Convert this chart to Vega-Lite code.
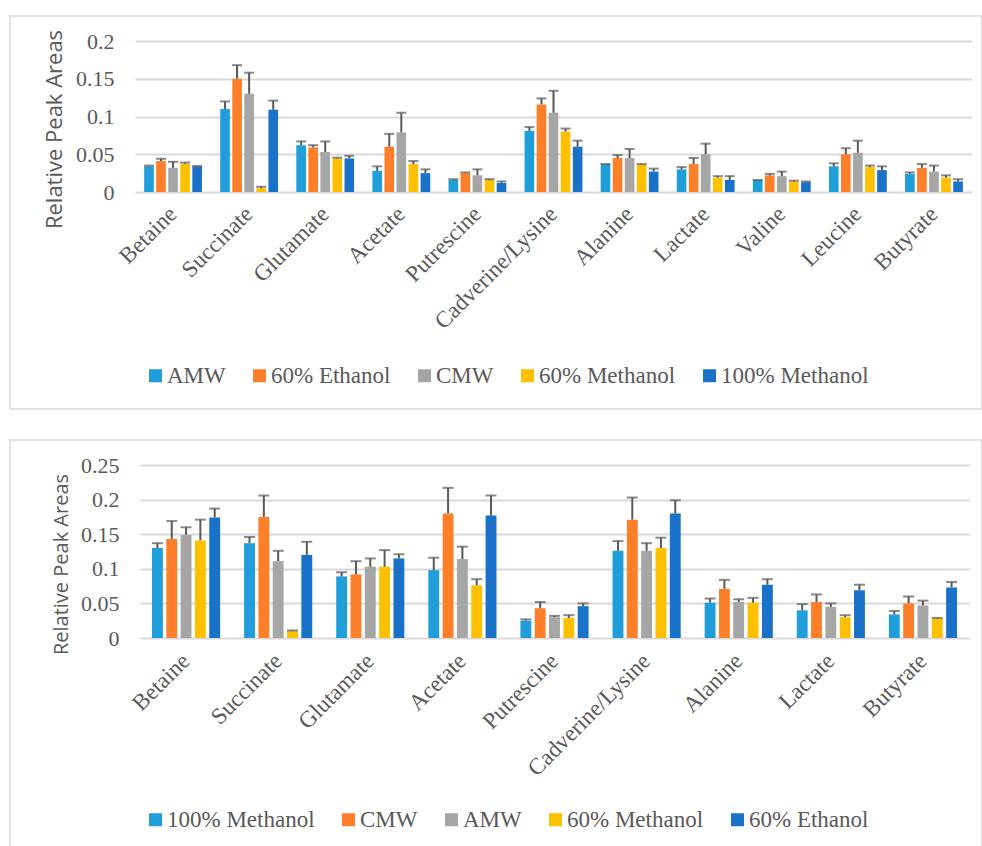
{
  "$schema": "https://vega.github.io/schema/vega-lite/v6.json",
  "padding": {"left": 9, "top": 15, "right": 0, "bottom": 0},
  "spacing": 29,
  "datasets": {
    "study1": [
      {"metabolite": "Betaine", "solvent": "AMW", "value": 0.034, "upper": 0.035},
      {"metabolite": "Betaine", "solvent": "60% Ethanol", "value": 0.041, "upper": 0.044},
      {"metabolite": "Betaine", "solvent": "CMW", "value": 0.032, "upper": 0.040},
      {"metabolite": "Betaine", "solvent": "60% Methanol", "value": 0.0375, "upper": 0.039},
      {"metabolite": "Betaine", "solvent": "100% Methanol", "value": 0.034, "upper": 0.0345},
      {"metabolite": "Succinate", "solvent": "AMW", "value": 0.110, "upper": 0.120},
      {"metabolite": "Succinate", "solvent": "60% Ethanol", "value": 0.150, "upper": 0.168},
      {"metabolite": "Succinate", "solvent": "CMW", "value": 0.130, "upper": 0.158},
      {"metabolite": "Succinate", "solvent": "60% Methanol", "value": 0.005, "upper": 0.007},
      {"metabolite": "Succinate", "solvent": "100% Methanol", "value": 0.109, "upper": 0.121},
      {"metabolite": "Glutamate", "solvent": "AMW", "value": 0.062, "upper": 0.067},
      {"metabolite": "Glutamate", "solvent": "60% Ethanol", "value": 0.059, "upper": 0.062},
      {"metabolite": "Glutamate", "solvent": "CMW", "value": 0.053, "upper": 0.067},
      {"metabolite": "Glutamate", "solvent": "60% Methanol", "value": 0.0445, "upper": 0.0455},
      {"metabolite": "Glutamate", "solvent": "100% Methanol", "value": 0.0445, "upper": 0.048},
      {"metabolite": "Acetate", "solvent": "AMW", "value": 0.028, "upper": 0.034},
      {"metabolite": "Acetate", "solvent": "60% Ethanol", "value": 0.060, "upper": 0.077},
      {"metabolite": "Acetate", "solvent": "CMW", "value": 0.079, "upper": 0.105},
      {"metabolite": "Acetate", "solvent": "60% Methanol", "value": 0.037, "upper": 0.041},
      {"metabolite": "Acetate", "solvent": "100% Methanol", "value": 0.025, "upper": 0.030},
      {"metabolite": "Putrescine", "solvent": "AMW", "value": 0.016, "upper": 0.017},
      {"metabolite": "Putrescine", "solvent": "60% Ethanol", "value": 0.025, "upper": 0.026},
      {"metabolite": "Putrescine", "solvent": "CMW", "value": 0.022, "upper": 0.030},
      {"metabolite": "Putrescine", "solvent": "60% Methanol", "value": 0.016, "upper": 0.017},
      {"metabolite": "Putrescine", "solvent": "100% Methanol", "value": 0.012, "upper": 0.014},
      {"metabolite": "Cadverine/Lysine", "solvent": "AMW", "value": 0.081, "upper": 0.086},
      {"metabolite": "Cadverine/Lysine", "solvent": "60% Ethanol", "value": 0.116, "upper": 0.124},
      {"metabolite": "Cadverine/Lysine", "solvent": "CMW", "value": 0.105, "upper": 0.134},
      {"metabolite": "Cadverine/Lysine", "solvent": "60% Methanol", "value": 0.080, "upper": 0.084},
      {"metabolite": "Cadverine/Lysine", "solvent": "100% Methanol", "value": 0.060, "upper": 0.068},
      {"metabolite": "Alanine", "solvent": "AMW", "value": 0.037, "upper": 0.037},
      {"metabolite": "Alanine", "solvent": "60% Ethanol", "value": 0.045, "upper": 0.049},
      {"metabolite": "Alanine", "solvent": "CMW", "value": 0.045, "upper": 0.057},
      {"metabolite": "Alanine", "solvent": "60% Methanol", "value": 0.036, "upper": 0.037},
      {"metabolite": "Alanine", "solvent": "100% Methanol", "value": 0.027, "upper": 0.031},
      {"metabolite": "Lactate", "solvent": "AMW", "value": 0.030, "upper": 0.033},
      {"metabolite": "Lactate", "solvent": "60% Ethanol", "value": 0.037, "upper": 0.045},
      {"metabolite": "Lactate", "solvent": "CMW", "value": 0.050, "upper": 0.064},
      {"metabolite": "Lactate", "solvent": "60% Methanol", "value": 0.019, "upper": 0.021},
      {"metabolite": "Lactate", "solvent": "100% Methanol", "value": 0.016, "upper": 0.021},
      {"metabolite": "Valine", "solvent": "AMW", "value": 0.016, "upper": 0.016},
      {"metabolite": "Valine", "solvent": "60% Ethanol", "value": 0.022, "upper": 0.024},
      {"metabolite": "Valine", "solvent": "CMW", "value": 0.021, "upper": 0.027},
      {"metabolite": "Valine", "solvent": "60% Methanol", "value": 0.014, "upper": 0.015},
      {"metabolite": "Valine", "solvent": "100% Methanol", "value": 0.013, "upper": 0.014},
      {"metabolite": "Leucine", "solvent": "AMW", "value": 0.034, "upper": 0.038},
      {"metabolite": "Leucine", "solvent": "60% Ethanol", "value": 0.050, "upper": 0.058},
      {"metabolite": "Leucine", "solvent": "CMW", "value": 0.052, "upper": 0.068},
      {"metabolite": "Leucine", "solvent": "60% Methanol", "value": 0.033, "upper": 0.035},
      {"metabolite": "Leucine", "solvent": "100% Methanol", "value": 0.029, "upper": 0.034},
      {"metabolite": "Butyrate", "solvent": "AMW", "value": 0.024, "upper": 0.026},
      {"metabolite": "Butyrate", "solvent": "60% Ethanol", "value": 0.032, "upper": 0.037},
      {"metabolite": "Butyrate", "solvent": "CMW", "value": 0.027, "upper": 0.035},
      {"metabolite": "Butyrate", "solvent": "60% Methanol", "value": 0.019, "upper": 0.022},
      {"metabolite": "Butyrate", "solvent": "100% Methanol", "value": 0.014, "upper": 0.017}
    ],
    "study2": [
      {"metabolite": "Betaine", "solvent": "100% Methanol", "value": 0.130, "upper": 0.137},
      {"metabolite": "Betaine", "solvent": "CMW", "value": 0.143, "upper": 0.169},
      {"metabolite": "Betaine", "solvent": "AMW", "value": 0.149, "upper": 0.160},
      {"metabolite": "Betaine", "solvent": "60% Methanol", "value": 0.141, "upper": 0.171},
      {"metabolite": "Betaine", "solvent": "60% Ethanol", "value": 0.174, "upper": 0.187},
      {"metabolite": "Succinate", "solvent": "100% Methanol", "value": 0.137, "upper": 0.146},
      {"metabolite": "Succinate", "solvent": "CMW", "value": 0.175, "upper": 0.206},
      {"metabolite": "Succinate", "solvent": "AMW", "value": 0.111, "upper": 0.126},
      {"metabolite": "Succinate", "solvent": "60% Methanol", "value": 0.010, "upper": 0.011},
      {"metabolite": "Succinate", "solvent": "60% Ethanol", "value": 0.120, "upper": 0.139},
      {"metabolite": "Glutamate", "solvent": "100% Methanol", "value": 0.089, "upper": 0.095},
      {"metabolite": "Glutamate", "solvent": "CMW", "value": 0.092, "upper": 0.111},
      {"metabolite": "Glutamate", "solvent": "AMW", "value": 0.103, "upper": 0.115},
      {"metabolite": "Glutamate", "solvent": "60% Methanol", "value": 0.103, "upper": 0.127},
      {"metabolite": "Glutamate", "solvent": "60% Ethanol", "value": 0.115, "upper": 0.121},
      {"metabolite": "Acetate", "solvent": "100% Methanol", "value": 0.098, "upper": 0.116},
      {"metabolite": "Acetate", "solvent": "CMW", "value": 0.180, "upper": 0.217},
      {"metabolite": "Acetate", "solvent": "AMW", "value": 0.114, "upper": 0.132},
      {"metabolite": "Acetate", "solvent": "60% Methanol", "value": 0.076, "upper": 0.085},
      {"metabolite": "Acetate", "solvent": "60% Ethanol", "value": 0.177, "upper": 0.206},
      {"metabolite": "Putrescine", "solvent": "100% Methanol", "value": 0.025, "upper": 0.027},
      {"metabolite": "Putrescine", "solvent": "CMW", "value": 0.043, "upper": 0.052},
      {"metabolite": "Putrescine", "solvent": "AMW", "value": 0.030, "upper": 0.032},
      {"metabolite": "Putrescine", "solvent": "60% Methanol", "value": 0.029, "upper": 0.033},
      {"metabolite": "Putrescine", "solvent": "60% Ethanol", "value": 0.046, "upper": 0.050},
      {"metabolite": "Cadverine/Lysine", "solvent": "100% Methanol", "value": 0.126, "upper": 0.140},
      {"metabolite": "Cadverine/Lysine", "solvent": "CMW", "value": 0.171, "upper": 0.203},
      {"metabolite": "Cadverine/Lysine", "solvent": "AMW", "value": 0.126, "upper": 0.137},
      {"metabolite": "Cadverine/Lysine", "solvent": "60% Methanol", "value": 0.130, "upper": 0.145},
      {"metabolite": "Cadverine/Lysine", "solvent": "60% Ethanol", "value": 0.180, "upper": 0.199},
      {"metabolite": "Alanine", "solvent": "100% Methanol", "value": 0.051, "upper": 0.057},
      {"metabolite": "Alanine", "solvent": "CMW", "value": 0.071, "upper": 0.084},
      {"metabolite": "Alanine", "solvent": "AMW", "value": 0.052, "upper": 0.056},
      {"metabolite": "Alanine", "solvent": "60% Methanol", "value": 0.051, "upper": 0.058},
      {"metabolite": "Alanine", "solvent": "60% Ethanol", "value": 0.077, "upper": 0.085},
      {"metabolite": "Lactate", "solvent": "100% Methanol", "value": 0.040, "upper": 0.049},
      {"metabolite": "Lactate", "solvent": "CMW", "value": 0.052, "upper": 0.063},
      {"metabolite": "Lactate", "solvent": "AMW", "value": 0.045, "upper": 0.050},
      {"metabolite": "Lactate", "solvent": "60% Methanol", "value": 0.030, "upper": 0.033},
      {"metabolite": "Lactate", "solvent": "60% Ethanol", "value": 0.069, "upper": 0.077},
      {"metabolite": "Butyrate", "solvent": "100% Methanol", "value": 0.034, "upper": 0.039},
      {"metabolite": "Butyrate", "solvent": "CMW", "value": 0.050, "upper": 0.060},
      {"metabolite": "Butyrate", "solvent": "AMW", "value": 0.047, "upper": 0.054},
      {"metabolite": "Butyrate", "solvent": "60% Methanol", "value": 0.028, "upper": 0.029},
      {"metabolite": "Butyrate", "solvent": "60% Ethanol", "value": 0.073, "upper": 0.081}
    ]
  },
  "vconcat": [
    {
      "width": 972,
      "height": 393,
      "data": {"name": "study1"},
      "encoding": {
        "x": {
          "field": "metabolite", "type": "nominal", "sort": null, "title": null,
          "scale": {"range": [125, 962], "paddingInner": 0.24, "paddingOuter": 0.12},
          "axis": {"offset": -217, "labelAngle": -45, "labelAlign": "right", "labelBaseline": "middle", "labelPadding": 18}
        },
        "xOffset": {
          "field": "solvent", "type": "nominal",
          "sort": ["AMW", "60% Ethanol", "CMW", "60% Methanol", "100% Methanol"],
          "scale": {"paddingInner": 0.2, "paddingOuter": 0}
        }
      },
      "layer": [
        {
          "mark": {"type": "bar"},
          "encoding": {
            "y": {
              "field": "value", "type": "quantitative",
              "scale": {"domain": [0, 0.2], "range": [176, 25], "nice": false},
              "axis": {
                "values": [0, 0.05, 0.1, 0.15, 0.2], "format": "~g", "offset": -125,
                "title": "Relative Peak Areas", "titleX": -81, "titleY": 113,
                "titleFontSize": 22
              }
            },
            "color": {
              "field": "solvent", "type": "nominal",
              "scale": {
                "domain": ["AMW", "60% Ethanol", "CMW", "60% Methanol", "100% Methanol"],
                "range": ["#1f9ed9", "#fe7f29", "#a6a6a6", "#ffc000", "#1972c8"]
              },
              "legend": {"legendX": 134, "legendY": 348}
            }
          }
        },
        {
          "mark": {"type": "rule", "color": "#595959", "strokeWidth": 2},
          "encoding": {
            "y": {"field": "value", "type": "quantitative"},
            "y2": {"field": "upper"}
          }
        },
        {
          "mark": {"type": "tick", "color": "#595959", "thickness": 2, "size": 10},
          "encoding": {
            "y": {"field": "upper", "type": "quantitative"}
          }
        }
      ]
    },
    {
      "width": 972,
      "height": 408,
      "data": {"name": "study2"},
      "encoding": {
        "x": {
          "field": "metabolite", "type": "nominal", "sort": null, "title": null,
          "scale": {"range": [130, 959], "paddingInner": 0.26, "paddingOuter": 0.13},
          "axis": {"offset": -210, "labelAngle": -45, "labelAlign": "right", "labelBaseline": "middle", "labelPadding": 19}
        },
        "xOffset": {
          "field": "solvent", "type": "nominal",
          "sort": ["100% Methanol", "CMW", "AMW", "60% Methanol", "60% Ethanol"],
          "scale": {"paddingInner": 0.24, "paddingOuter": 0}
        }
      },
      "layer": [
        {
          "mark": {"type": "bar"},
          "encoding": {
            "y": {
              "field": "value", "type": "quantitative",
              "scale": {"domain": [0, 0.25], "range": [198, 25], "nice": false},
              "axis": {
                "values": [0, 0.05, 0.1, 0.15, 0.2, 0.25], "format": "~g", "offset": -130,
                "title": "Relative Peak Areas", "titleX": -79, "titleY": 124,
                "titleFontSize": 20
              }
            },
            "color": {
              "field": "solvent", "type": "nominal",
              "scale": {
                "domain": ["100% Methanol", "CMW", "AMW", "60% Methanol", "60% Ethanol"],
                "range": ["#1f9ed9", "#fe7f29", "#a6a6a6", "#ffc000", "#1972c8"]
              },
              "legend": {"legendX": 134, "legendY": 368}
            }
          }
        },
        {
          "mark": {"type": "rule", "color": "#595959", "strokeWidth": 2},
          "encoding": {
            "y": {"field": "value", "type": "quantitative"},
            "y2": {"field": "upper"}
          }
        },
        {
          "mark": {"type": "tick", "color": "#595959", "thickness": 2, "size": 11},
          "encoding": {
            "y": {"field": "upper", "type": "quantitative"}
          }
        }
      ]
    }
  ],
  "resolve": {
    "scale": {"x": "independent", "y": "independent", "xOffset": "independent", "color": "independent"},
    "legend": {"color": "independent"}
  },
  "config": {
    "background": "#ffffff",
    "view": {"stroke": "#d9d9d9", "strokeWidth": 1.5},
    "axisX": {
      "domain": false, "ticks": false, "grid": false,
      "labelFont": "Liberation Serif", "labelFontSize": 23, "labelColor": "#595959",
      "labelOverlap": false, "labelFlush": false, "labelLimit": 0
    },
    "axisY": {
      "domain": false, "ticks": false, "grid": true,
      "gridColor": "#d9d9d9", "gridWidth": 2,
      "labelFont": "Liberation Serif", "labelFontSize": 22, "labelColor": "#595959",
      "labelPadding": 21, "labelOverlap": false, "labelFlush": false,
      "titleFont": "Open Sans", "titleFontWeight": "normal", "titleColor": "#595959",
      "titleAngle": 270, "titleAlign": "center", "titleBaseline": "middle"
    },
    "legend": {
      "orient": "none", "direction": "horizontal", "columns": 5, "title": null,
      "padding": 0, "symbolType": "square", "symbolSize": 169, "symbolStrokeWidth": 0,
      "labelFont": "Liberation Serif", "labelFontSize": 23, "labelColor": "#595959",
      "labelOffset": 0, "columnPadding": 22, "labelLimit": 0
    }
  }
}
